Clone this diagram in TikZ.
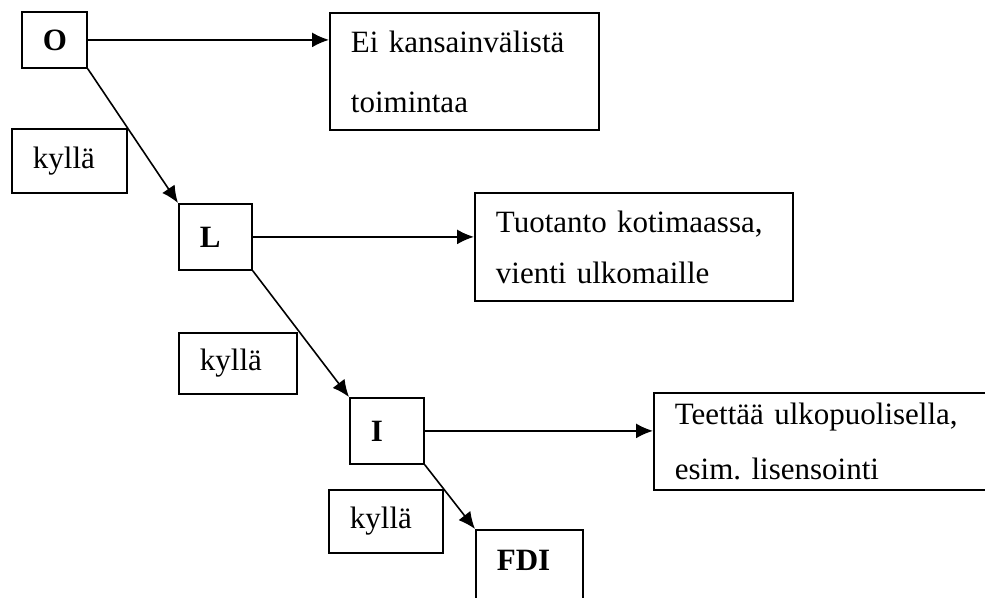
\documentclass[tikz,border=0pt]{standalone}
\usepackage{fontspec}
\setmainfont{Liberation Serif}
\frenchspacing
\usetikzlibrary{arrows.meta,positioning}
\tikzset{box/.style={draw,line width=1.8pt,anchor=north west,align=left,
                     inner xsep=21pt,inner ysep=0pt,font=\fontsize{31}{55}\selectfont},
        stage/.style={box,font=\fontsize{31}{36}\selectfont\bfseries},
        yes/.style={box},
        result/.style={box},
        flow/.style={line width=1.6pt,-{Latex[length=17pt,width=15pt]}},
        }

\begin{document}
\begin{tikzpicture}[x=1pt,y=-1pt]
    \clip (0,0) rectangle (985,597);

    % stages
    \node[stage,text width=23pt,minimum height=56pt] (O) at (21,11) {O};
    \node[stage,text width=31pt,minimum height=66pt] (L) at (178,203) {L};
    \node[stage,text width=32pt,minimum height=66pt] (I) at (349,397) {I};
    \node[stage,text width=65pt,text height=41pt,text depth=70pt] (FDI) at (475,529) {FDI};

    % answers
    \node[yes,text width=73pt,minimum height=64pt] (yesO) at (11,128) {kyllä};
    \node[yes,text width=76pt,minimum height=61pt] (yesL) at (178,332) {kyllä};
    \node[yes,text width=72pt,minimum height=63pt] (yesI) at (328,489) {kyllä};

    % outcomes
    \node[result,text width=227pt,minimum height=117pt,font=\fontsize{31}{60}\selectfont]
        (none) at (329,12) {Ei kansainvälistä\\toimintaa};
    \node[result,text width=276pt,minimum height=108pt,font=\fontsize{31}{51}\selectfont]
        (export) at (474,192) {Tuotanto kotimaassa,\\vienti ulkomaille};
    \node[result,text width=318pt,minimum height=97pt]
        (licence) at (653,392) {Teettää ulkopuolisella,\\esim. lisensointi};

    \draw[flow] (O.east) -- (O.east -| none.west);
    \draw[flow] (L.east) -- (L.east -| export.west);
    \draw[flow] (I.east) -- (I.east -| licence.west);
    \draw[flow] (O.south east) -- (L.north west);
    \draw[flow] (L.south east) -- (I.north west);
    \draw[flow] (I.south east) -- (FDI.north west);
\end{tikzpicture}
\end{document}
